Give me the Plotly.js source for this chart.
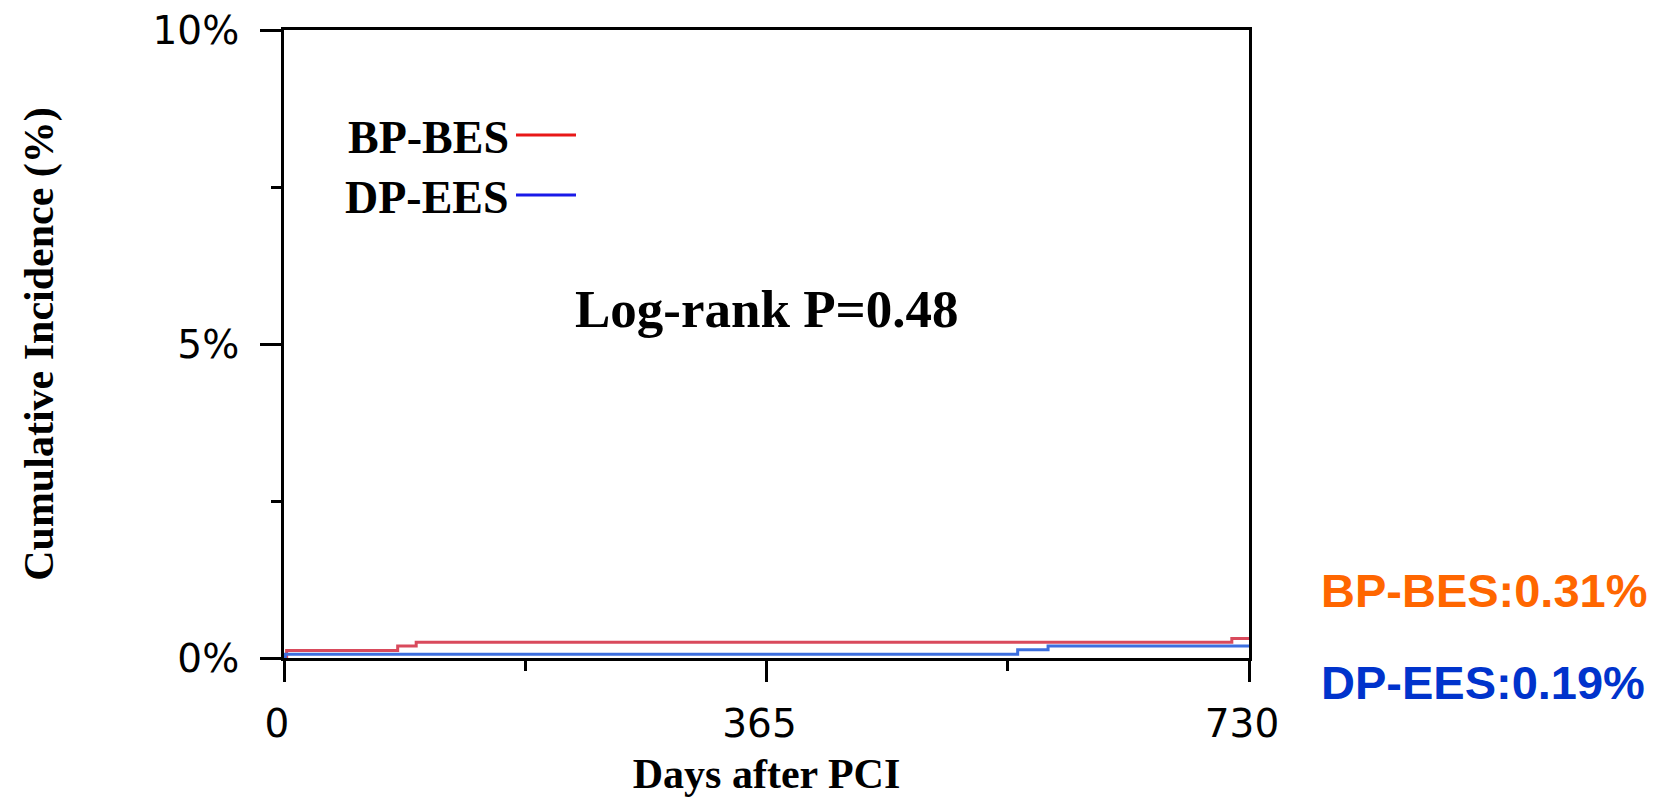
<!DOCTYPE html>
<html>
<head>
<meta charset="utf-8">
<script src="https://cdn.plot.ly/plotly-3.0.1.min.js"></script>
<style>
  html, body { margin: 0; padding: 0; background: #ffffff; }
  #chart { width: 1660px; height: 797px; }
</style>
</head>
<body>
<div id="chart"></div>
<script>
// Kaplan-Meier cumulative incidence (%), step curves by stent group
const daysBP = [0, 2, 86, 100, 717, 730];
const incBP  = [0, 0.12, 0.19, 0.25, 0.31, 0.31];
const daysDP = [0, 1, 555, 578, 730];
const incDP  = [0, 0.06, 0.13, 0.19, 0.19];

const groupNames = ['BP-BES', 'DP-EES'];
const finalRates = [0.31, 0.19];
const pValue = 0.48;

const xTickVals = [0, 365, 730];
const xMinorVals = [182.5, 547.5];
const yTickVals = [0, 5, 10];
const yMinorVals = [2.5, 7.5];

const serifBold = {family: 'Liberation Serif, Times New Roman, serif', weight: 'bold', color: '#000'};
const tickFont = {family: 'DejaVu Sans, Verdana, sans-serif', size: 39, color: '#000'};

const traces = [
  {x: daysBP, y: incBP, name: groupNames[0], type: 'scatter', mode: 'lines',
   line: {shape: 'hv', color: '#d94a5c', width: 3}, showlegend: false, hoverinfo: 'x+y'},
  {x: daysDP, y: incDP, name: groupNames[1], type: 'scatter', mode: 'lines',
   line: {shape: 'hv', color: '#3d6fdf', width: 3}, showlegend: false, hoverinfo: 'x+y'}
];

// plot area in pixels (for placing legend keys and side labels)
const M = {l: 284, r: 411, t: 30, b: 139};
const W = 1660, H = 797;
const pw = W - M.l - M.r, ph = H - M.t - M.b;
const px = v => (v - M.l) / pw;
const py = v => (H - M.b - v) / ph;

const layout = {
  width: W, height: H,
  margin: M,
  paper_bgcolor: '#ffffff',
  plot_bgcolor: '#ffffff',
  showlegend: false,
  xaxis: {
    range: [0, 730],
    tickvals: xTickVals,
    ticktext: xTickVals.map(String),
    ticks: 'outside', ticklen: 21, tickwidth: 3, tickcolor: '#000',
    minor: {tickvals: xMinorVals, ticks: 'outside', ticklen: 10, tickwidth: 3, tickcolor: '#000'},
    showline: true, linewidth: 3, linecolor: '#000', mirror: true,
    showgrid: false, zeroline: false,
    tickfont: tickFont,
    ticklabelshift: -7,
    ticklabelstandoff: 8,
    title: {text: 'Days after PCI', font: Object.assign({size: 42}, serifBold), standoff: 22}
  },
  yaxis: {
    range: [0, 10],
    tickvals: yTickVals,
    ticktext: yTickVals.map(v => v + '%'),
    ticks: 'outside', ticklen: 21, tickwidth: 3, tickcolor: '#000',
    minor: {tickvals: yMinorVals, ticks: 'outside', ticklen: 10, tickwidth: 3, tickcolor: '#000'},
    showline: true, linewidth: 3, linecolor: '#000', mirror: true,
    showgrid: false, zeroline: false,
    tickfont: tickFont,
    ticklabelstandoff: 13,
    title: {text: 'Cumulative Incidence (%)', font: Object.assign({size: 42}, serifBold), standoff: 86}
  },
  shapes: [
    {type: 'line', xref: 'paper', yref: 'paper', x0: px(516), x1: px(576), y0: py(135), y1: py(135),
     line: {color: '#e81818', width: 3}},
    {type: 'line', xref: 'paper', yref: 'paper', x0: px(516), x1: px(576), y0: py(195), y1: py(195),
     line: {color: '#1a1ae8', width: 3}}
  ],
  annotations: [
    {xref: 'paper', yref: 'paper', x: px(511), y: py(137), xanchor: 'right', yanchor: 'middle',
     text: groupNames[0], showarrow: false, font: Object.assign({size: 46}, serifBold)},
    {xref: 'paper', yref: 'paper', x: px(511), y: py(197), xanchor: 'right', yanchor: 'middle',
     text: groupNames[1], showarrow: false, font: Object.assign({size: 46}, serifBold)},
    {xref: 'paper', yref: 'paper', x: 0.5, y: py(309), xanchor: 'center', yanchor: 'middle',
     text: 'Log-rank P=' + pValue.toFixed(2), showarrow: false, font: Object.assign({size: 53}, serifBold)},
    {xref: 'paper', yref: 'paper', x: px(1319), y: py(590), xanchor: 'left', yanchor: 'middle',
     text: groupNames[0] + ':' + finalRates[0].toFixed(2) + '%', showarrow: false,
     font: {family: 'Liberation Sans, Arial, sans-serif', size: 47, weight: 'bold', color: '#ff6600'}},
    {xref: 'paper', yref: 'paper', x: px(1319), y: py(682), xanchor: 'left', yanchor: 'middle',
     text: groupNames[1] + ':' + finalRates[1].toFixed(2) + '%', showarrow: false,
     font: {family: 'Liberation Sans, Arial, sans-serif', size: 47, weight: 'bold', color: '#0033cc'}}
  ]
};

Plotly.newPlot('chart', traces, layout, {displayModeBar: false, staticPlot: true});
</script>
</body>
</html>
